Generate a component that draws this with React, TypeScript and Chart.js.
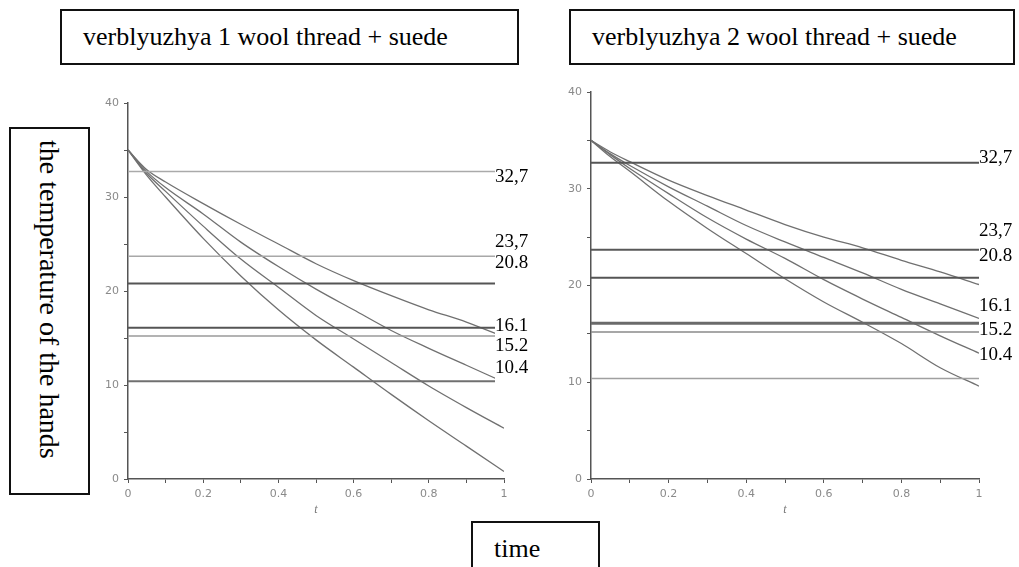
import React, { useEffect, useRef } from "react";
import { Chart, registerables } from "chart.js";

Chart.register(...registerables);

// ---------- data ----------
const T_VALUES = [0, 0.05, 0.1, 0.2, 0.3, 0.4, 0.5, 0.6, 0.7, 0.8, 0.9, 1.0];

// panel 1: verblyuzhya 1 wool thread + suede
const P1_CURVE_A = [35, 32.9, 31.6, 29.3, 27.1, 25.0, 22.9, 21.1, 19.5, 18.0, 16.7, 15.1];
const P1_CURVE_B = [35, 32.7, 31.0, 28.2, 25.2, 22.6, 20.2, 18.0, 15.8, 13.9, 12.1, 10.3];
const P1_CURVE_C = [35, 32.5, 30.6, 26.9, 23.4, 20.4, 17.4, 14.9, 12.4, 9.9, 7.6, 5.4];
const P1_CURVE_D = [35, 32.3, 30.0, 25.6, 21.6, 18.0, 14.8, 11.9, 9.0, 6.2, 3.5, 0.8];

// panel 2: verblyuzhya 2 wool thread + suede
const P2_CURVE_A = [35, 33.8, 32.8, 30.9, 29.3, 27.8, 26.3, 25.0, 23.9, 22.6, 21.4, 20.1];
const P2_CURVE_B = [35, 33.6, 32.4, 30.2, 28.2, 26.2, 24.5, 22.9, 21.3, 19.6, 18.1, 16.6];
const P2_CURVE_C = [35, 33.5, 32.1, 29.5, 27.0, 24.8, 22.8, 20.6, 18.6, 16.7, 14.8, 13.0];
const P2_CURVE_D = [35, 33.3, 31.8, 28.7, 25.9, 23.3, 20.7, 18.3, 16.2, 14.0, 11.5, 9.6];

// horizontal reference temperatures and their printed labels
const THRESHOLDS = [32.7, 23.7, 20.8, 16.1, 15.2, 10.4];
const THRESHOLD_TEXT = ["32,7", "23,7", "20.8", "16.1", "15.2", "10.4"];
// where each label text sits (in temperature units) next to the lines
const P1_LABEL_AT = [32.1, 25.2, 23.0, 16.3, 14.1, 11.8];
const P2_LABEL_AT = [33.2, 25.6, 23.0, 17.9, 15.4, 12.8];

const Y_TICKS_MAX = 40;
const X_TICKS_MAX = 1;

const TITLE_1 = "verblyuzhya 1 wool thread + suede";
const TITLE_2 = "verblyuzhya 2 wool thread + suede";
const Y_TITLE = "the temperature of the hands";
const X_TITLE = "time";
const AXIS_VAR = "t";

// ---------- styles ----------
const SERIF = '"Liberation Serif", "Times New Roman", serif';
const P1_LINE_COLORS = ["#aaaaaa", "#a8a8a8", "#555555", "#555555", "#9a9a9a", "#707070"];
const P1_LINE_WIDTHS = [1.5, 1.5, 2, 2, 1.5, 2];
const P2_LINE_COLORS = ["#555555", "#585858", "#555555", "#6a6a6a", "#8a8a8a", "#a0a0a0"];
const P2_LINE_WIDTHS = [2, 2, 2, 3, 1.5, 1.5];

function labelPlugin(labelAt: number[], shift: number) {
  return {
    id: "thresholdLabels",
    afterDatasetsDraw(chart: any) {
      const { ctx, chartArea, scales } = chart;
      const y = scales.y;
      const x0 = chartArea.right + shift;
      const ys = labelAt.map((v) => y.getPixelForValue(v));
      const top = Math.min(...ys) - 12;
      const bottom = Math.max(...ys) + 16;
      ctx.save();
      ctx.fillStyle = "#ffffff";
      ctx.fillRect(x0, top, chart.width - x0, bottom - top);
      ctx.fillStyle = "#000000";
      ctx.font = `19px ${SERIF}`;
      ctx.textBaseline = "middle";
      ctx.textAlign = "left";
      THRESHOLD_TEXT.forEach((t, i) => ctx.fillText(t, x0, ys[i]));
      ctx.restore();
    },
  };
}

function buildConfig(
  curves: number[][],
  lineColors: string[],
  lineWidths: number[],
  labelAt: number[],
  shift: number,
  yWidth: number,
  padding: { top: number; right: number; bottom: number; left: number }
) {
  const curveSets = curves.map((c) => ({
    data: T_VALUES.map((t, i) => ({ x: t, y: c[i] })),
    borderColor: "#707070",
    borderWidth: 1.3,
    pointRadius: 0,
    cubicInterpolationMode: "monotone" as const,
    fill: false,
  }));
  const lineSets = THRESHOLDS.map((v, i) => ({
    data: [
      { x: 0, y: v },
      { x: X_TICKS_MAX, y: v },
    ],
    borderColor: lineColors[i],
    borderWidth: lineWidths[i],
    pointRadius: 0,
    fill: false,
  }));
  return {
    type: "line" as const,
    data: { datasets: [...lineSets, ...curveSets] },
    plugins: [labelPlugin(labelAt, shift)],
    options: {
      animation: false as const,
      responsive: false,
      devicePixelRatio: 1,
      layout: { padding },
      plugins: { legend: { display: false }, tooltip: { enabled: false } },
      scales: {
        x: {
          type: "linear" as const,
          min: 0,
          max: X_TICKS_MAX,
          afterFit: (s: any) => {
            s.height = 42;
          },
          border: { color: "#555555", width: 1.5 },
          grid: { drawOnChartArea: false, drawTicks: true, tickLength: 4, color: "#555555" },
          ticks: {
            stepSize: 0.1,
            autoSkip: false,
            maxRotation: 0,
            padding: 5,
            color: "#8a8a8a",
            font: { family: "DejaVu Sans", size: 11 },
            callback: (v: any) => {
              const k = Math.round(Number(v) * 10);
              return k % 2 === 0 ? String(k / 10) : "";
            },
          },
          title: {
            display: true,
            text: AXIS_VAR,
            color: "#777777",
            font: { family: SERIF, size: 12, style: "italic" as const },
            padding: 4,
          },
        },
        y: {
          type: "linear" as const,
          min: 0,
          max: Y_TICKS_MAX,
          afterFit: (s: any) => {
            s.width = yWidth;
          },
          border: { color: "#555555", width: 1.5 },
          grid: { drawOnChartArea: false, drawTicks: true, tickLength: 4, color: "#555555" },
          ticks: {
            stepSize: 5,
            autoSkip: false,
            padding: 5,
            color: "#8a8a8a",
            font: { family: "DejaVu Sans", size: 11 },
            callback: (v: any) => (Number(v) % 10 === 0 ? String(v) : ""),
          },
        },
      },
    },
  };
}

const boxBase: React.CSSProperties = {
  position: "absolute",
  boxSizing: "border-box",
  border: "2px solid #111",
  background: "#ffffff",
  color: "#000",
  fontFamily: SERIF,
  fontSize: 26,
  lineHeight: "52px",
  paddingLeft: 21,
  whiteSpace: "nowrap",
};

export default function App() {
  const c1 = useRef<HTMLCanvasElement | null>(null);
  const c2 = useRef<HTMLCanvasElement | null>(null);

  useEffect(() => {
    const ch1 = new Chart(
      c1.current as HTMLCanvasElement,
      buildConfig(
        [P1_CURVE_A, P1_CURVE_B, P1_CURVE_C, P1_CURVE_D],
        P1_LINE_COLORS,
        P1_LINE_WIDTHS,
        P1_LABEL_AT,
        -9,
        58,
        { top: 23, right: 36, bottom: 9, left: 0 }
      ) as any
    );
    const ch2 = new Chart(
      c2.current as HTMLCanvasElement,
      buildConfig(
        [P2_CURVE_A, P2_CURVE_B, P2_CURVE_C, P2_CURVE_D],
        P2_LINE_COLORS,
        P2_LINE_WIDTHS,
        P2_LABEL_AT,
        0,
        51,
        { top: 17, right: 40, bottom: 9, left: 0 }
      ) as any
    );
    return () => {
      ch1.destroy();
      ch2.destroy();
    };
  }, []);

  return (
    <div
      style={{
        position: "absolute",
        left: 0,
        top: 0,
        width: 1019,
        height: 567,
        overflow: "hidden",
        background: "#ffffff",
      }}
    >
      <div style={{ position: "absolute", left: 70, top: 80, width: 470, height: 450 }}>
        <canvas ref={c1} width={470} height={450} style={{ display: "block" }} />
      </div>
      <div style={{ position: "absolute", left: 540, top: 75, width: 479, height: 455 }}>
        <canvas ref={c2} width={479} height={455} style={{ display: "block" }} />
      </div>

      <div style={{ ...boxBase, left: 60, top: 9, width: 459, height: 56 }}>{TITLE_1}</div>
      <div style={{ ...boxBase, left: 569, top: 9, width: 446, height: 56 }}>{TITLE_2}</div>
      <div
        style={{
          ...boxBase,
          left: 9,
          top: 127,
          width: 81,
          height: 368,
          paddingLeft: 0,
          paddingTop: 11,
          fontSize: 28,
          lineHeight: "77px",
          writingMode: "vertical-rl",
        }}
      >
        {Y_TITLE}
      </div>
      <div style={{ ...boxBase, left: 471, top: 521, width: 129, height: 56 }}>{X_TITLE}</div>
    </div>
  );
}
